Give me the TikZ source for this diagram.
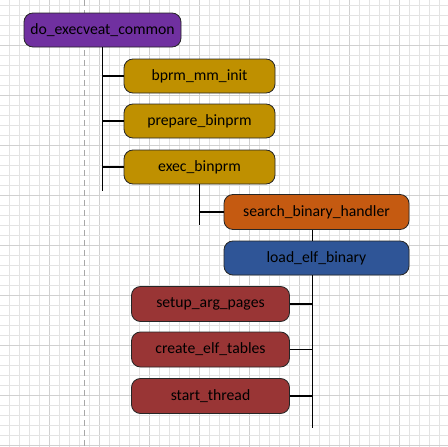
\documentclass[tikz,border=0pt]{standalone}
\usepackage{fontspec}
\setmainfont{Carlito}
\definecolor{cpurple}{HTML}{7030A0}
\definecolor{cgold}{HTML}{BF9000}
\definecolor{corange}{HTML}{C55A11}
\definecolor{cblue}{HTML}{2F5597}
\definecolor{cred}{HTML}{993535}
\definecolor{gridlight}{HTML}{E3E3E3}
\definecolor{griddark}{HTML}{D0D0D0}
\begin{document}
\begin{tikzpicture}[x=1pt,y=-1pt,
  fn/.style={draw=black!85, line width=0.8pt, rounded corners=9pt, inner sep=0pt,
    font=\fontsize{15.7}{18}\selectfont, text=black},
  link/.style={line width=1.8pt, black}]
\useasboundingbox (0,0) rectangle (448,447);
\fill[white] (0,0) rectangle (448,447);
% grid
\foreach \i in {0,...,43} {
  \pgfmathtruncatemacro{\xx}{9+10*\i}
  \pgfmathtruncatemacro{\m}{mod(\i,5)==4 ? 1 : 0}
  \ifnum\m=1 \draw[griddark, line width=1pt] (\xx,0) -- (\xx,447);
  \else \draw[gridlight, line width=1pt] (\xx,0) -- (\xx,447); \fi
}
\foreach \i in {0,...,44} {
  \pgfmathtruncatemacro{\yy}{5+10*\i}
  \pgfmathtruncatemacro{\m}{mod(\i,5)==4 ? 1 : 0}
  \ifnum\m=1 \draw[griddark, line width=1pt] (0,\yy) -- (448,\yy);
  \else \draw[gridlight, line width=1pt] (0,\yy) -- (448,\yy); \fi
}
\draw[black!35, line width=1pt, dash pattern=on 6pt off 4pt] (84,0) -- (84,447);
% nodes
\node[fn, fill=cpurple, minimum width=157pt, minimum height=34pt] (do) at (102.5,30) {do\_execveat\_common};
\node[fn, fill=cgold, minimum width=151pt, minimum height=34pt] (bprm) at (199.5,76) {bprm\_mm\_init};
\node[fn, fill=cgold, minimum width=151pt, minimum height=34pt] (prep) at (199.5,121) {prepare\_binprm};
\node[fn, fill=cgold, minimum width=151pt, minimum height=34pt] (exec) at (199.5,167) {exec\_binprm};
\node[fn, fill=corange, minimum width=185pt, minimum height=35pt] (search) at (316.5,212) {search\_binary\_handler};
\node[fn, fill=cblue, minimum width=185pt, minimum height=34pt] (load) at (316.5,258) {load\_elf\_binary};
\node[fn, fill=cred, minimum width=158pt, minimum height=35pt] (setup) at (210.5,304) {setup\_arg\_pages};
\node[fn, fill=cred, minimum width=158pt, minimum height=35pt] (create) at (210.5,349.5) {create\_elf\_tables};
\node[fn, fill=cred, minimum width=158pt, minimum height=35pt] (start) at (210.5,396) {start\_thread};
% connectors
\coordinate (doend) at (102.5,191);
\draw[link] (do.south) -- (doend);
\draw[link] (bprm.west) -- (bprm.west -| doend);
\draw[link] (prep.west) -- (prep.west -| doend);
\draw[link] (exec.west) -- (exec.west -| doend);
\coordinate (exend) at (199.5,225);
\draw[link] (exec.south) -- (exend);
\draw[link] (search.west) -- (search.west -| exend);
\coordinate (sl) at (312.5,0);
\draw[link] (search.south -| sl) -- (load.north -| sl);
\coordinate (ldend) at (312.5,428);
\draw[link] (load.south -| ldend) -- (ldend);
\draw[link] (setup.east) -- (setup.east -| ldend);
\draw[link] (create.east) -- (create.east -| ldend);
\draw[link] (start.east) -- (start.east -| ldend);
\end{tikzpicture}
\end{document}
